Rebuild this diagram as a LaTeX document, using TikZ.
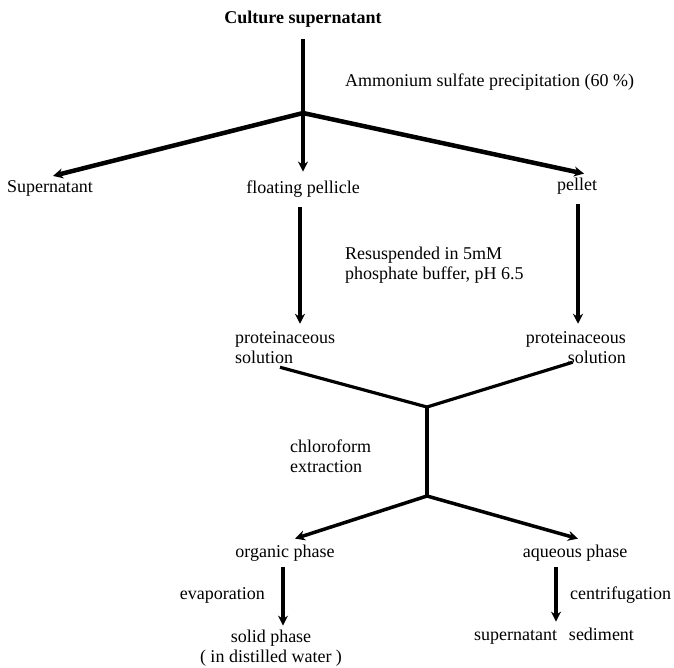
\documentclass[tikz,border=0pt]{standalone}
\usepackage{fontspec}
\setmainfont{Liberation Serif}
\usetikzlibrary{arrows.meta}
\begin{document}
\begin{tikzpicture}[x=1pt,y=-1pt,
  lbl/.style={font=\fontsize{18}{20}\selectfont, inner sep=0pt},
  flow/.style={line width=4pt, -{Stealth[length=10pt,width=10pt]}},
  link/.style={line width=3.2pt}]
  \useasboundingbox (0,0) rectangle (674,667);
  % top: precipitation step
  \node[lbl] (culture) at (303,19) {\bfseries Culture supernatant};
  \coordinate (j1) at (303,113);
  \node[lbl, anchor=west] (ammonium) at (345,82) {Ammonium sulfate precipitation (60 \%)};
  \node[lbl] (super) at (50,188) {Supernatant};
  \node[lbl] (pellicle) at (303,189) {floating pellicle};
  \node[lbl] (pellet) at (577,186) {pellet};
  \draw[line width=4pt, shorten <=12pt] (culture.south) -- (j1);
  \draw[flow, line width=4.5pt] (j1) -- ([xshift=3pt,yshift=4pt]super.north);
  \draw[flow] (j1) -- ([yshift=9pt]pellicle.north);
  \draw[flow, line width=4.5pt] (j1) -- ([xshift=7pt,yshift=4pt]pellet.north);
  % resuspension
  \node[lbl, anchor=west, align=left] (resusp) at (345,265) {Resuspended in 5mM\\phosphate buffer, pH 6.5};
  \node[lbl, anchor=west, align=left] (protL) at (235,348) {proteinaceous\\solution};
  \node[lbl, anchor=east, align=right] (protR) at (626,348) {proteinaceous\hspace{11pt}\\solution};
  \draw[flow, shorten <=10pt] ([xshift=-3pt]pellicle.south) -- ([xshift=-3pt,yshift=8pt]pellicle.south |- protL.north);
  \draw[flow, shorten <=10pt] ([xshift=1pt]pellet.south) -- ([xshift=1pt,yshift=8pt]pellet.south |- protR.north);
  % chloroform extraction
  \coordinate (j2) at (427,407);
  \coordinate (j3) at (427,496);
  \draw[link] ([xshift=45pt,yshift=-3pt]protL.south west) -- (j2);
  \draw[link] ([xshift=47pt,yshift=2pt]protR.south west) -- (j2);
  \draw[link] (j2) -- (j3);
  \node[lbl, anchor=west, align=left] (chloro) at (290,456) {chloroform\\extraction};
  \node[lbl] (organic) at (285,553) {organic phase};
  \node[lbl] (aqueous) at (575,553) {aqueous phase};
  \draw[flow, line width=3.5pt] (j3) -- ([xshift=10pt,yshift=6pt]organic.north);
  \draw[flow, line width=3.5pt] (j3) -- ([xshift=3pt,yshift=6pt]aqueous.north);
  % last steps
  \node[lbl, align=center] (solid) at (271,648) {solid phase\\( in distilled water )};
  \node[lbl, anchor=east] (evap) at (265,595) {evaporation};
  \node[lbl] (supsed) at (554,636) {supernatant\hspace{12pt}sediment};
  \node[lbl, anchor=west] (centri) at (570,595) {centrifugation};
  \draw[flow, shorten <=6pt] ([xshift=-2pt]organic.south) -- ([xshift=-2pt,yshift=4pt]organic.south |- solid.north);
  \draw[flow, shorten <=6pt] ([xshift=-19pt]aqueous.south) -- ([xshift=-19pt,yshift=6pt]aqueous.south |- supsed.north);
\end{tikzpicture}
\end{document}
